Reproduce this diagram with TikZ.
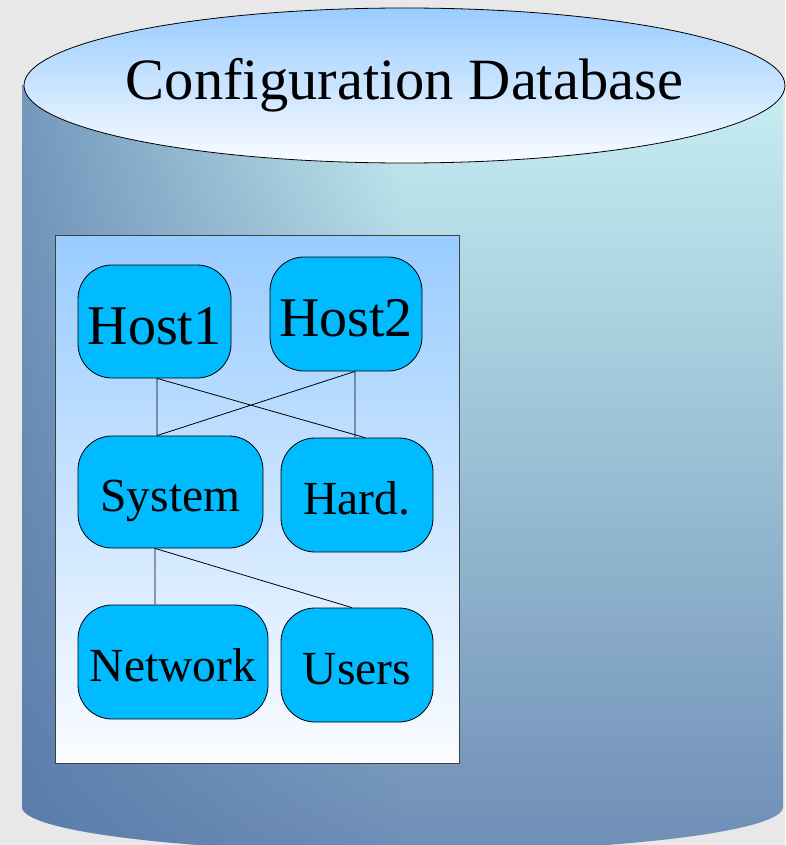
\documentclass[tikz,border=0pt]{standalone}
\usepackage{fontspec}
\setmainfont{Liberation Serif}
\usetikzlibrary{shapes.geometric,fadings}

\definecolor{bggray}{HTML}{E8E8E8}
\definecolor{skyfill}{HTML}{99CCFF}
\definecolor{paleend}{HTML}{FAFCFF}
\definecolor{boxblue}{HTML}{00BBFF}
\definecolor{panelline}{HTML}{404040}
\definecolor{bodytop}{HTML}{C6EEF2}
\definecolor{bodymid}{HTML}{A6C2DA}
\definecolor{bodybot}{HTML}{6E8EB6}
\definecolor{bodyshadow}{HTML}{5274A6}

\tikzfading[name=leftdark, left color=transparent!0, right color=transparent!100]

\tikzset{
  dbbox/.style={draw, line width=0.8pt, fill=boxblue, rounded corners=34pt,
    inner sep=0pt, text depth=0pt},
  hostfont/.style={font=\fontsize{56}{60}\selectfont, text height=45pt},
  partfont/.style={font=\fontsize{47.5}{52}\selectfont, text height=39.5pt},
  dbtopnode/.style={ellipse, draw, line width=0.8pt, top color=skyfill,
    bottom color=paleend, minimum width=761pt, minimum height=155pt,
    inner xsep=-20pt, inner ysep=0pt, text height=27.8pt, text depth=0pt,
    font=\fontsize{58.5}{62}\selectfont},
  panelbox/.style={draw=panelline, line width=0.8pt, top color=skyfill,
    bottom color=paleend},
  link/.style={line width=0.8pt}
}

\begin{document}
\begin{tikzpicture}[x=1pt,y=-1pt]

      %%% background and cylinder %%%
      \fill[bggray] (0,0) rectangle (785,845);
      \useasboundingbox (0,0) rectangle (785,845);
      \shade[top color=bodytop, middle color=bodymid, bottom color=bodybot]
        (22,85) -- (22,807)
        arc[start angle=180, end angle=360, x radius=380.5pt, y radius=45pt]
        -- (783,85) -- cycle;
      \begin{scope}
        \clip (22,85) -- (22,807)
          arc[start angle=180, end angle=360, x radius=380.5pt, y radius=45pt]
          -- (783,85) -- cycle;
        \fill[bodyshadow, path fading=leftdark, fill opacity=0.7]
          (22,80) rectangle (400,860);
      \end{scope}
      \node (dbtop) at (404.5,85.5) [dbtopnode] {Configuration Database};

      %%% inner panel %%%
      \draw[panelbox] (55,235) rectangle (459,763);

      \node (host1) at (154.5,321.5) [dbbox, hostfont, minimum width=153pt, minimum height=113pt] {Host1};
      \node (host2) at (346,314) [dbbox, hostfont, minimum width=152pt, minimum height=114pt] {Host2};
      \node (sys) at (170.5,492) [dbbox, partfont, minimum width=185pt, minimum height=112pt] {System};
      \node (hard) at (357,495) [dbbox, partfont, minimum width=152pt, minimum height=114pt] {Hard.};
      \node (net) at (173,662) [dbbox, partfont, minimum width=190pt, minimum height=114pt] {Network};
      \node (users) at (357,665) [dbbox, partfont, minimum width=152pt, minimum height=114pt] {Users};

      \draw[link]
      ([xshift=2.5pt]host1.south) to ([xshift=-13.5pt]sys.north)
      ([xshift=2.5pt]host1.south) to ([xshift=8pt]hard.north)
      ([xshift=9pt]host2.south) to ([xshift=-13.5pt]sys.north)
      ([xshift=9pt]host2.south) to ([xshift=-2pt]hard.north);

      \draw[link]
      ([xshift=-15.5pt]sys.south) to ([xshift=-18pt]net.north)
      ([xshift=-15.5pt]sys.south) to ([xshift=-5pt]users.north);

    \end{tikzpicture}
\end{document}
